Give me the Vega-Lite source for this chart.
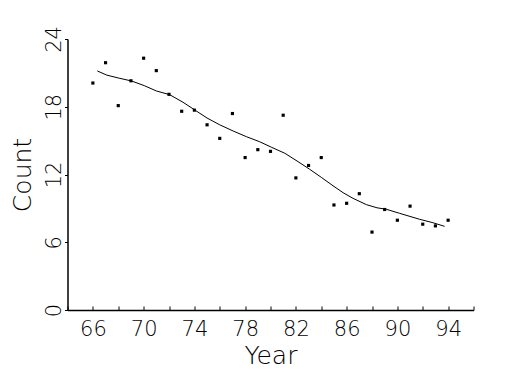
{
  "$schema": "https://vega.github.io/schema/vega-lite/v6.json",
  "width": 406,
  "height": 271,
  "autosize": "none",
  "padding": {"left": 67.5, "top": 39, "right": 51.5, "bottom": 65},
  "background": "white",
  "config": {
    "view": {"stroke": null},
    "font": "DejaVu Sans",
    "axis": {
      "grid": false,
      "domainColor": "black",
      "domainWidth": 1.5,
      "tickColor": "black",
      "tickWidth": 1,
      "labelColor": "black",
      "titleColor": "black",
      "labelFont": "DejaVu Sans",
      "titleFont": "DejaVu Sans",
      "labelFontWeight": 200,
      "titleFontWeight": 200,
      "labelFontSize": 21,
      "titleFontSize": 25
    }
  },
  "datasets": {
    "points": [
      {"Year": 66, "Count": 20.1}, {"Year": 67, "Count": 21.9}, {"Year": 68, "Count": 18.1},
      {"Year": 69, "Count": 20.3}, {"Year": 70, "Count": 22.3}, {"Year": 71, "Count": 21.2},
      {"Year": 72, "Count": 19.1}, {"Year": 73, "Count": 17.6}, {"Year": 74, "Count": 17.7},
      {"Year": 75, "Count": 16.4}, {"Year": 76, "Count": 15.2}, {"Year": 77, "Count": 17.4},
      {"Year": 78, "Count": 13.5}, {"Year": 79, "Count": 14.2}, {"Year": 80, "Count": 14.05},
      {"Year": 81, "Count": 17.25}, {"Year": 82, "Count": 11.7}, {"Year": 83, "Count": 12.8},
      {"Year": 84, "Count": 13.5}, {"Year": 85, "Count": 9.3}, {"Year": 86, "Count": 9.45},
      {"Year": 87, "Count": 10.3}, {"Year": 88, "Count": 6.9}, {"Year": 89, "Count": 8.9},
      {"Year": 90, "Count": 7.95}, {"Year": 91, "Count": 9.2}, {"Year": 92, "Count": 7.6},
      {"Year": 93, "Count": 7.45}, {"Year": 94, "Count": 7.95}
    ],
    "smooth": [
      {"Year": 66.35, "Count": 21.17}, {"Year": 67.1, "Count": 20.8}, {"Year": 68.0, "Count": 20.55},
      {"Year": 69.05, "Count": 20.28}, {"Year": 70.05, "Count": 19.87}, {"Year": 71.0, "Count": 19.4},
      {"Year": 72.05, "Count": 19.07}, {"Year": 73.1, "Count": 18.4}, {"Year": 74.05, "Count": 17.7},
      {"Year": 75.0, "Count": 17.0}, {"Year": 76.0, "Count": 16.4}, {"Year": 77.06, "Count": 15.85},
      {"Year": 78.1, "Count": 15.35}, {"Year": 79.15, "Count": 14.9}, {"Year": 80.1, "Count": 14.4},
      {"Year": 81.13, "Count": 13.88}, {"Year": 82.17, "Count": 13.14}, {"Year": 83.09, "Count": 12.46},
      {"Year": 84.0, "Count": 11.75}, {"Year": 84.93, "Count": 11.0}, {"Year": 85.72, "Count": 10.39},
      {"Year": 86.5, "Count": 9.89}, {"Year": 87.56, "Count": 9.33}, {"Year": 88.4, "Count": 9.05},
      {"Year": 89.13, "Count": 8.92}, {"Year": 90.18, "Count": 8.56}, {"Year": 91.76, "Count": 8.03},
      {"Year": 92.8, "Count": 7.73}, {"Year": 93.72, "Count": 7.41}
    ]
  },
  "encoding": {
    "x": {
      "field": "Year", "type": "quantitative",
      "scale": {"domain": [64, 96], "nice": false, "zero": false},
      "axis": {
        "values": [64, 66, 68, 70, 72, 74, 76, 78, 80, 82, 84, 86, 88, 90, 92, 94, 96],
        "labelExpr": "datum.value % 4 == 2 ? datum.label : ''",
        "tickSize": -4,
        "labelPadding": 12,
        "labelFlush": false,
        "labelOverlap": false,
        "title": "Year",
        "titlePadding": 4
      }
    },
    "y": {
      "field": "Count", "type": "quantitative",
      "scale": {"domain": [0, 24], "nice": false},
      "axis": {
        "values": [0, 6, 12, 18, 24],
        "tickSize": 3,
        "labelAngle": -90,
        "labelPadding": 0,
        "labelFlush": false,
        "labelOverlap": false,
        "title": "Count",
        "titlePadding": 8
      }
    }
  },
  "layer": [
    {
      "data": {"name": "points"},
      "mark": {"type": "square", "size": 10, "color": "black", "opacity": 1, "filled": true}
    },
    {
      "data": {"name": "smooth"},
      "mark": {"type": "line", "color": "black", "strokeWidth": 1}
    }
  ]
}
